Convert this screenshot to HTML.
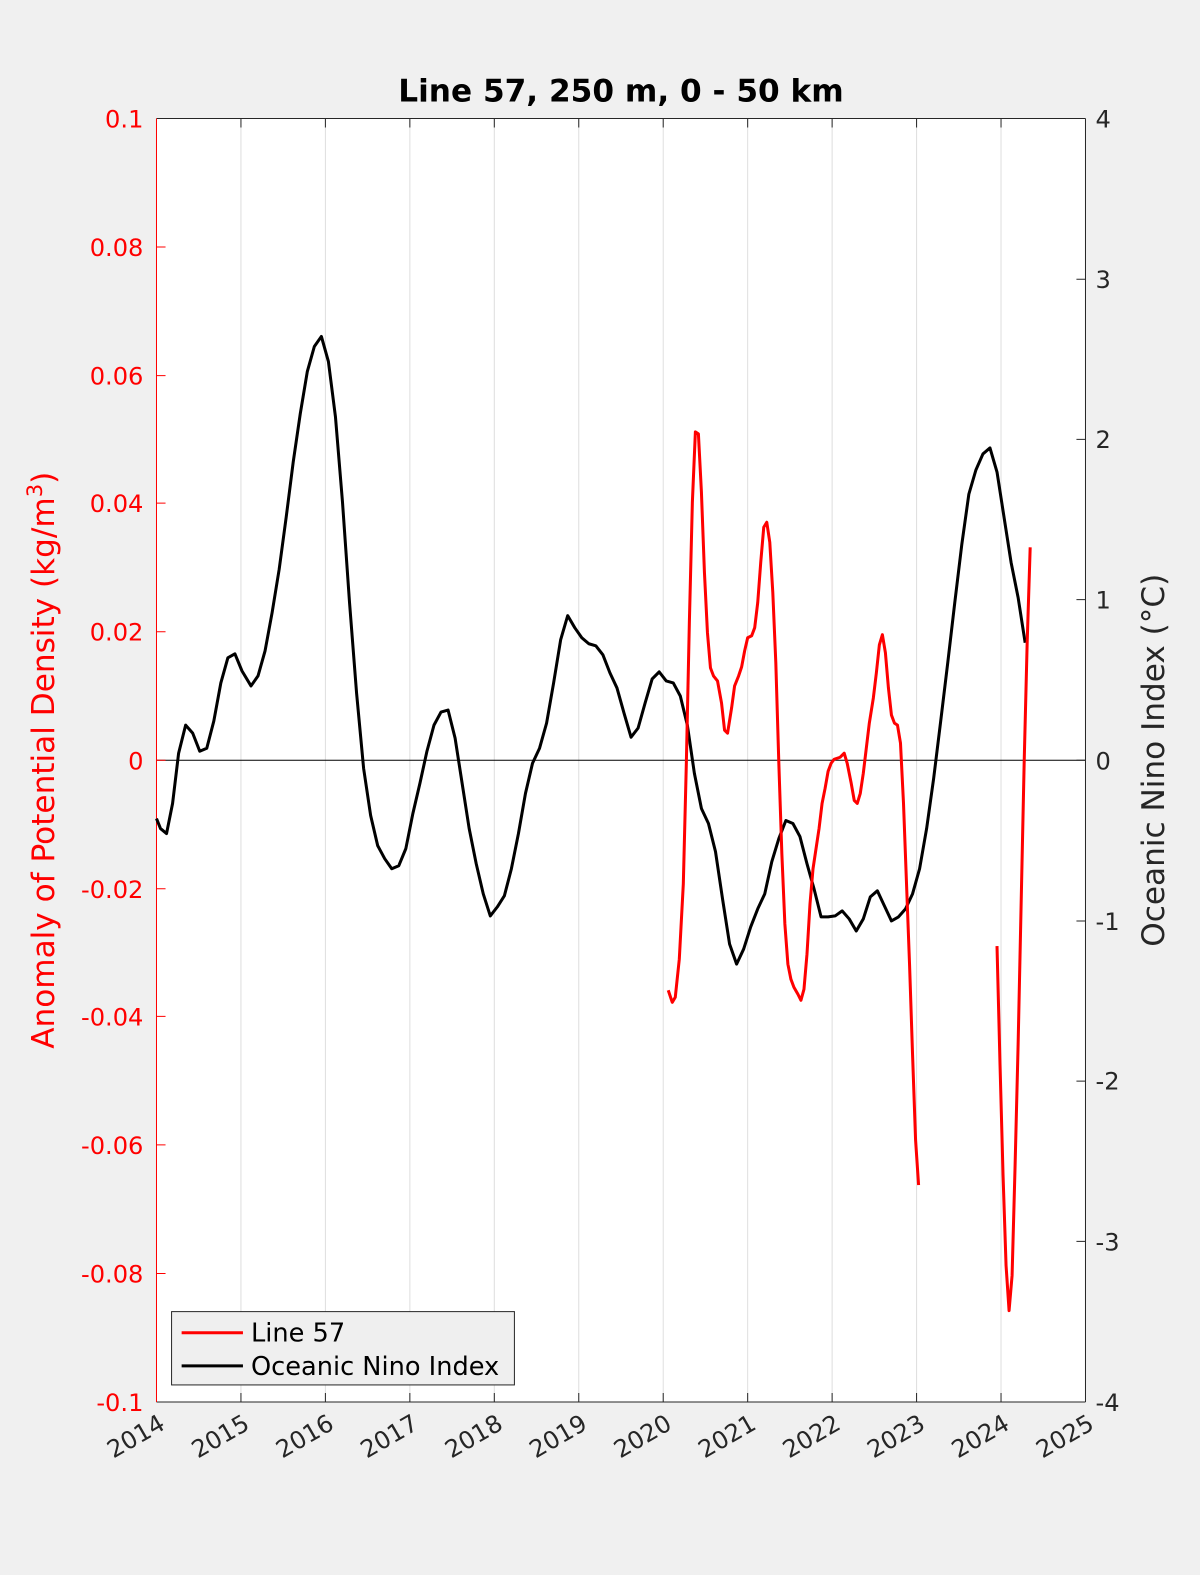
<!DOCTYPE html>
<html><head><meta charset="utf-8"><style>
html,body{margin:0;padding:0;background:#f0f0f0;}
svg{display:block;font-family:"DejaVu Sans","Liberation Sans",sans-serif;}
</style></head><body>
<svg width="1200" height="1575" viewBox="0 0 1200 1575" xmlns="http://www.w3.org/2000/svg">
<rect width="1200" height="1575" fill="#f0f0f0"/>
<g transform="matrix(1.0054,0,0,1.0043,-0.35,0)">
<rect x="156" y="118" width="924" height="1278" fill="#fff"/>
<g stroke="#dedede" stroke-width="1">
<line x1="240" y1="118" x2="240" y2="1396"/><line x1="324" y1="118" x2="324" y2="1396"/>
<line x1="408" y1="118" x2="408" y2="1396"/><line x1="492" y1="118" x2="492" y2="1396"/>
<line x1="576" y1="118" x2="576" y2="1396"/><line x1="660" y1="118" x2="660" y2="1396"/>
<line x1="744" y1="118" x2="744" y2="1396"/><line x1="828" y1="118" x2="828" y2="1396"/>
<line x1="912" y1="118" x2="912" y2="1396"/><line x1="996" y1="118" x2="996" y2="1396"/>
</g>
<line x1="156" y1="757" x2="1080" y2="757" stroke="#000" stroke-width="1"/>
<g stroke="#262626" stroke-width="1">
<path d="M240,1396v-9M324,1396v-9M408,1396v-9M492,1396v-9M576,1396v-9M660,1396v-9M744,1396v-9M828,1396v-9M912,1396v-9M996,1396v-9
M240,118v9M324,118v9M408,118v9M492,118v9M576,118v9M660,118v9M744,118v9M828,118v9M912,118v9M996,118v9
M1080,278h-9M1080,437.5h-9M1080,597h-9M1080,757h-9M1080,917h-9M1080,1076.5h-9M1080,1236h-9"/>
</g>
<g stroke="#f00" stroke-width="1">
<path d="M156,246h9M156,374h9M156,501h9M156,629h9M156,757h9M156,885h9M156,1012h9M156,1140h9M156,1268h9"/>
</g>
<line x1="156" y1="118" x2="1080" y2="118" stroke="#262626"/>
<line x1="156" y1="1396" x2="1080" y2="1396" stroke="#262626"/>
<line x1="1080" y1="118" x2="1080" y2="1396" stroke="#262626"/>
<line x1="156" y1="118" x2="156" y2="1396" stroke="#f00"/>

<polyline fill="none" stroke="#000" stroke-width="3" stroke-linejoin="round" points="156,815 160,825 166,830 172,800 178,750 185,722 192,730 199,748 206,745 213,718 220,680 227,655 234,651 241,668 250,683 257,673 264,648 271,610 278,567 285,515 292,460 299,412 306,370 313,345 320,335 327,360 334,415 341,500 348,600 355,690 362,765 369,812 376,842 383,855 390,865 397,862 404,845 411,810 418,780 425,748 432,722 439,709 446,707 453,735 460,780 467,825 474,860 481,890 488,912 495,903 502,892 509,865 516,830 523,790 530,760 537,745 544,720 551,680 558,637 565,613 572,625 579,635 586,641 593,643 600,652 607,670 614,685 621,710 628,734 635,725 642,700 649,676 656,669 663,678 670,680 677,693 684,722 691,770 698,805 705,820 712,848 719,895 726,940 733,960 740,945 747,923 754,905 761,890 768,858 775,835 782,817 789,820 796,833 803,860 810,885 817,913 824,913 831,912 838,907 845,915 852,927 859,915 866,893 873,887 880,902 887,917 894,913 901,905 908,890 915,865 922,825 929,775 936,718 943,660 950,600 957,542 964,492 971,468 978,452 985,446 992,470 999,515 1006,560 1013,595 1020,640"/>
<polyline fill="none" stroke="#f00" stroke-width="3" stroke-linejoin="round" points="665,986 669,998 672,993 676,955 680,880 683,760 686,620 689,500 692,430 695,432 698,490 701,570 704,630 707,665 710,673 714,678 718,700 721,727 724,730 728,705 731,683 735,673 738,664 741,648 744,635 748,633 751,625 754,600 757,560 760,525 763,520 766,540 769,590 772,660 775,760 778,850 781,920 784,960 787,975 790,983 794,990 797,996 800,985 803,950 806,900 809,865 812,845 815,825 818,800 821,785 824,768 827,760 830,756 833,755 836,754 840,750 843,760 847,780 850,797 853,800 856,790 859,770 862,745 865,720 869,695 872,670 875,642 878,632 881,650 884,685 887,712 890,720 893,722 896,740 899,800 902,880 905,960 908,1050 911,1135 914,1180"/>
<polyline fill="none" stroke="#f00" stroke-width="3" stroke-linejoin="round" points="992,942 995,1060 998,1170 1001,1260 1004,1305 1007,1270 1010,1160 1013,1040 1016,900 1019,760 1022,640 1025,545"/>

<rect x="171" y="1306" width="341" height="73" fill="#efefef" stroke="#262626" stroke-width="1"/>
<line x1="181" y1="1327" x2="242" y2="1327" stroke="#f00" stroke-width="3"/>
<line x1="181" y1="1360" x2="242" y2="1360" stroke="#000" stroke-width="3"/>
<text x="250" y="1336" font-size="25.5" fill="#000">Line 57</text>
<text x="250" y="1369" font-size="25.5" fill="#000">Oceanic Nino Index</text>

<g fill="#f00" font-size="24" text-anchor="end">
<text x="143" y="127">0.1</text><text x="143" y="255">0.08</text><text x="143" y="383">0.06</text>
<text x="143" y="510">0.04</text><text x="143" y="638">0.02</text><text x="143" y="766">0</text>
<text x="143" y="894">-0.02</text><text x="143" y="1021">-0.04</text><text x="143" y="1149">-0.06</text>
<text x="143" y="1277">-0.08</text><text x="143" y="1405">-0.1</text>
</g>
<g fill="#262626" font-size="24">
<text x="1090" y="127">4</text><text x="1090" y="287">3</text><text x="1090" y="446">2</text>
<text x="1090" y="606">1</text><text x="1090" y="766">0</text><text x="1090" y="926">-1</text>
<text x="1090" y="1085">-2</text><text x="1090" y="1245">-3</text><text x="1090" y="1405">-4</text>
</g>
<g fill="#262626" font-size="24" text-anchor="end">
<text transform="translate(166,1422) rotate(-30)">2014</text>
<text transform="translate(250,1422) rotate(-30)">2015</text>
<text transform="translate(334,1422) rotate(-30)">2016</text>
<text transform="translate(418,1422) rotate(-30)">2017</text>
<text transform="translate(502,1422) rotate(-30)">2018</text>
<text transform="translate(586,1422) rotate(-30)">2019</text>
<text transform="translate(670,1422) rotate(-30)">2020</text>
<text transform="translate(754,1422) rotate(-30)">2021</text>
<text transform="translate(838,1422) rotate(-30)">2022</text>
<text transform="translate(922,1422) rotate(-30)">2023</text>
<text transform="translate(1006,1422) rotate(-30)">2024</text>
<text transform="translate(1090,1422) rotate(-30)">2025</text>
</g>
<text x="618" y="101" font-size="31" font-weight="bold" text-anchor="middle" fill="#000">Line 57, 250 m, 0 - 50 km</text>
<text transform="translate(54,757) rotate(-90)" font-size="31" fill="#f00" text-anchor="middle">Anomaly of Potential Density (kg/m<tspan font-size="21" dy="-12">3</tspan><tspan dy="12">)</tspan></text>
<text transform="translate(1158,757) rotate(-90)" font-size="31" fill="#262626" text-anchor="middle">Oceanic Nino Index (°C)</text>
</g>
</svg>
</body></html>
